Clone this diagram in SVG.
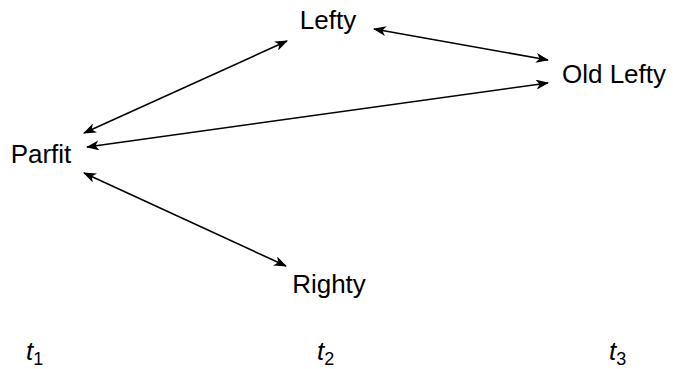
<svg xmlns="http://www.w3.org/2000/svg" width="673" height="369" viewBox="0 0 673 369">
<style>
.n{font-family:"Liberation Sans",Arial,sans-serif;font-size:26px;fill:#000;text-anchor:middle}
.t{font-family:"Liberation Sans",Arial,sans-serif;font-style:italic;font-size:26px;fill:#000}
.c line{stroke:#000;stroke-width:1.6;marker-start:url(#ah);marker-end:url(#ah)}
</style>
<defs>
<marker id="ah" viewBox="0 0 13 10" refX="12" refY="5" markerWidth="13" markerHeight="10" markerUnits="userSpaceOnUse" orient="auto-start-reverse">
<path d="M0,0 L13,5 L0,10 L3.5,5 Z" fill="#000"/>
</marker>
</defs>
<rect width="673" height="369" fill="#fff"/>
<g class="c" id="connectors">
<line x1="84" y1="133" x2="287" y2="41"/>
<line x1="374" y1="29" x2="548" y2="60"/>
<line x1="548" y1="83" x2="87" y2="147"/>
<line x1="84" y1="173" x2="286" y2="266"/>
</g>
<g id="lefty"><text class="n" x="328" y="29">Lefty</text></g>
<g id="oldlefty"><text class="n" x="614" y="83">Old Lefty</text></g>
<g id="parfit"><text class="n" x="41" y="163">Parfit</text></g>
<g id="righty"><text class="n" x="329" y="293">Righty</text></g>
<g id="t1"><text class="t" x="26" y="360">t<tspan font-size="18" dy="5" font-style="normal">1</tspan></text></g>
<g id="t2"><text class="t" x="317" y="360">t<tspan font-size="18" dy="5" font-style="normal">2</tspan></text></g>
<g id="t3"><text class="t" x="609" y="360">t<tspan font-size="18" dy="5" font-style="normal">3</tspan></text></g>
</svg>
